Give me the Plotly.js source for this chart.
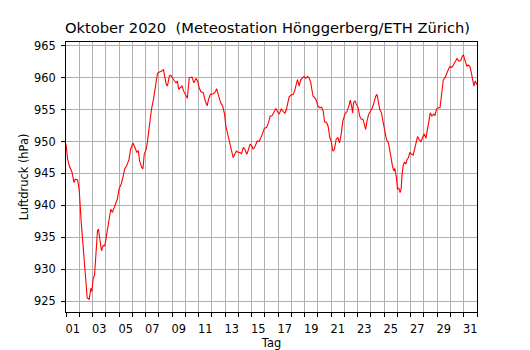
<!DOCTYPE html>
<html>
<head>
<meta charset="utf-8">
<script src="https://cdn.plot.ly/plotly-3.0.1.min.js"></script>
<style>
  html, body { margin: 0; padding: 0; background: #fff; }
  #chart { width: 530px; height: 350px; }
</style>
</head>
<body>
<div id="chart"></div>
<script>
// Day of month (fractional, 1.0 = 1 Oct 00:00)
const tag = [
  1.00, 1.125, 1.25, 1.45, 1.60, 1.70, 1.875, 2.00, 2.15, 2.30, 2.45, 2.60, 2.75, 2.875, 2.95,
  3.05, 3.15, 3.25, 3.375, 3.45, 3.55, 3.675, 3.80, 3.925, 4.05, 4.20, 4.375, 4.50, 4.70, 4.875,
  5.00, 5.175, 5.325, 5.425, 5.575, 5.75, 5.875, 6.05, 6.15, 6.25, 6.35, 6.45, 6.55, 6.70, 6.80,
  6.90, 7.05, 7.15, 7.30, 7.45, 7.60, 7.75, 7.90, 8.05, 8.20, 8.35, 8.45, 8.55, 8.65, 8.80,
  8.90, 9.00, 9.15, 9.30, 9.40, 9.50, 9.625, 9.75, 9.875, 10.00, 10.15, 10.30, 10.50, 10.65, 10.80,
  10.92, 11.05, 11.18, 11.35, 11.50, 11.65, 11.75, 11.90, 12.11, 12.26, 12.36, 12.51, 12.66, 12.81, 12.96,
  13.06, 13.19, 13.31, 13.41, 13.51, 13.61, 13.74, 13.86, 13.99, 14.12, 14.24, 14.37, 14.49, 14.64, 14.77,
  14.89, 15.02, 15.12, 15.27, 15.42, 15.57, 15.70, 15.82, 15.97, 16.13, 16.28, 16.40, 16.53, 16.68, 16.83,
  16.95, 17.08, 17.23, 17.38, 17.51, 17.63, 17.73, 17.83, 17.98, 18.14, 18.24, 18.34, 18.46, 18.59, 18.69,
  18.84, 18.96, 19.09, 19.22, 19.34, 19.47, 19.54, 19.64, 19.79, 19.89, 19.99, 20.15, 20.27, 20.40, 20.50,
  20.65, 20.77, 20.90, 21.00, 21.13, 21.25, 21.38, 21.51, 21.63, 21.76, 21.88, 22.04, 22.19, 22.34, 22.44,
  22.54, 22.62, 22.69, 22.79, 22.89, 23.02, 23.15, 23.27, 23.40, 23.53, 23.60, 23.70, 23.83, 23.95, 24.11,
  24.23, 24.36, 24.46, 24.56, 24.66, 24.79, 24.91, 25.04, 25.17, 25.32, 25.42, 25.52, 25.62, 25.72, 25.80,
  25.92, 26.00, 26.10, 26.20, 26.28, 26.35, 26.43, 26.53, 26.63, 26.73, 26.83, 26.93, 27.06, 27.19, 27.29,
  27.39, 27.52, 27.64, 27.77, 27.89, 28.02, 28.15, 28.27, 28.37, 28.47, 28.60, 28.73, 28.83, 28.95, 29.08,
  29.21, 29.33, 29.46, 29.59, 29.71, 29.84, 29.96, 30.09, 30.22, 30.37, 30.49, 30.62, 30.77, 30.90, 30.98,
  31.08, 31.24, 31.34, 31.46, 31.57, 31.67, 31.77, 31.87, 31.97, 32.00
];
// Air pressure (hPa)
const luftdruck = [
  949.6, 947.2, 946.2, 945.2, 943.6, 944.1, 944.0, 942.3, 937.3, 932.9, 929.2, 925.5, 925.3, 927.0, 926.5,
  928.6, 929.0, 932.9, 936.0, 936.3, 934.4, 932.9, 933.7, 933.7, 935.2, 937.0, 939.4, 938.9, 939.9, 941.0,
  942.6, 943.4, 944.7, 945.7, 946.2, 947.2, 948.8, 949.8, 949.3, 948.8, 948.3, 948.6, 947.0, 946.0, 945.7,
  948.0, 948.8, 950.1, 952.7, 955.1, 956.6, 959.0, 960.7, 960.9, 961.0, 961.3, 960.3, 959.0, 958.7, 960.3,
  960.4, 960.0, 959.6, 959.2, 959.5, 958.2, 958.4, 958.7, 957.9, 957.4, 956.8, 960.0, 960.1, 959.2, 959.9,
  959.5, 958.4, 957.8, 957.7, 956.4, 955.6, 956.6, 957.4, 957.5, 957.8, 958.3, 957.1, 956.1, 955.6, 954.3,
  952.4, 951.2, 950.6, 949.6, 948.5, 947.5, 948.1, 948.5, 948.3, 948.3, 948.1, 949.1, 948.8, 948.0, 948.8,
  949.6, 949.3, 948.8, 949.3, 950.1, 950.0, 950.5, 951.2, 952.1, 952.2, 953.0, 954.0, 954.0, 954.5, 955.2,
  954.7, 954.3, 955.1, 954.8, 954.4, 955.1, 955.9, 957.0, 957.3, 957.4, 957.9, 958.7, 959.7, 958.7, 959.6,
  960.0, 960.2, 959.9, 960.2, 960.0, 959.2, 958.2, 957.1, 956.8, 956.4, 955.6, 955.3, 955.4, 954.8, 953.1,
  953.0, 952.4, 950.6, 950.1, 948.5, 948.8, 950.4, 950.6, 949.8, 951.2, 953.2, 954.3, 954.7, 955.6, 956.5,
  955.6, 954.5, 956.1, 956.4, 955.9, 955.4, 954.0, 953.5, 953.5, 952.7, 951.9, 953.2, 954.3, 954.7, 955.3,
  956.1, 957.1, 957.4, 956.4, 955.1, 954.5, 953.0, 951.4, 950.3, 949.8, 948.8, 947.5, 946.2, 945.4, 945.8,
  944.4, 942.6, 942.7, 942.0, 942.6, 944.9, 946.2, 946.8, 946.5, 947.2, 947.5, 948.3, 948.0, 947.9, 948.8,
  949.6, 950.8, 950.3, 950.0, 950.6, 951.2, 950.5, 951.7, 953.2, 954.5, 954.0, 954.3, 954.1, 955.1, 955.3,
  955.3, 957.1, 959.7, 960.0, 960.8, 961.3, 961.8, 961.6, 962.0, 962.7, 963.0, 962.6, 962.7, 963.4, 963.6,
  962.8, 961.8, 962.0, 961.8, 960.8, 959.7, 958.7, 959.5, 959.1, 958.9
];
// Day boundaries (grid + ticks) and odd-day labels placed at noon
const tagGrenzen = [];
for (let d = 1; d <= 32; d++) tagGrenzen.push(d);
const labelTage = [1, 3, 5, 7, 9, 11, 13, 15, 17, 19, 21, 23, 25, 27, 29, 31];
const tagLabels = ['01','03','05','07','09','11','13','15','17','19','21','23','25','27','29','31'];
const druckTicks = [925, 930, 935, 940, 945, 950, 955, 960, 965];

const font = 'DejaVu Sans, sans-serif';
const grid = '#b0b0b0';
const fs = 11.4;

Plotly.newPlot('chart', [{
  x: tag,
  y: luftdruck,
  type: 'scatter',
  mode: 'lines',
  line: { color: '#ff0000', width: 1.1 },
  hoverinfo: 'skip'
}], {
  width: 530,
  height: 350,
  margin: { l: 66, r: 53, t: 42, b: 38, pad: 0 },
  paper_bgcolor: '#ffffff',
  plot_bgcolor: '#ffffff',
  showlegend: false,
  font: { family: font, size: fs, color: '#000' },
  title: {
    text: 'Oktober 2020  (Meteostation Hönggerberg/ETH Zürich)',
    font: { family: font, size: 14.7, color: '#000' },
    x: 267.5 / 530, xref: 'container', xanchor: 'center',
    y: 1 - 28 / 350, yref: 'container', yanchor: 'middle'
  },
  xaxis: {
    type: 'linear',
    range: [1, 32],
    tickmode: 'array',
    tickvals: labelTage.map(d => d + 0.5),
    ticktext: tagLabels,
    ticks: '',
    showgrid: false,
    minor: {
      tickmode: 'array',
      tickvals: tagGrenzen,
      ticks: 'outside',
      ticklen: 4,
      tickwidth: 1,
      tickcolor: '#000',
      showgrid: true,
      gridcolor: grid,
      gridwidth: 1
    },
    zeroline: false,
    showline: true,
    mirror: true,
    linecolor: '#000',
    linewidth: 1,
    tickfont: { family: font, size: fs, color: '#000' },
    ticklabelstandoff: 6,
    title: { text: 'Tag', font: { family: font, size: fs, color: '#000' }, standoff: 5 },
    automargin: false
  },
  yaxis: {
    range: [923.3, 965.6],
    tickmode: 'array',
    tickvals: druckTicks,
    ticks: 'outside',
    ticklen: 4,
    tickwidth: 1,
    tickcolor: '#000',
    showgrid: true,
    gridcolor: grid,
    gridwidth: 1,
    zeroline: false,
    showline: true,
    mirror: true,
    linecolor: '#000',
    linewidth: 1,
    tickfont: { family: font, size: fs, color: '#000' },
    ticklabelstandoff: 3,
    title: { text: 'Luftdruck (hPa)', font: { family: font, size: fs, color: '#000' }, standoff: 2 },
    automargin: false
  }
}, { displayModeBar: false, staticPlot: true });
</script>
</body>
</html>
